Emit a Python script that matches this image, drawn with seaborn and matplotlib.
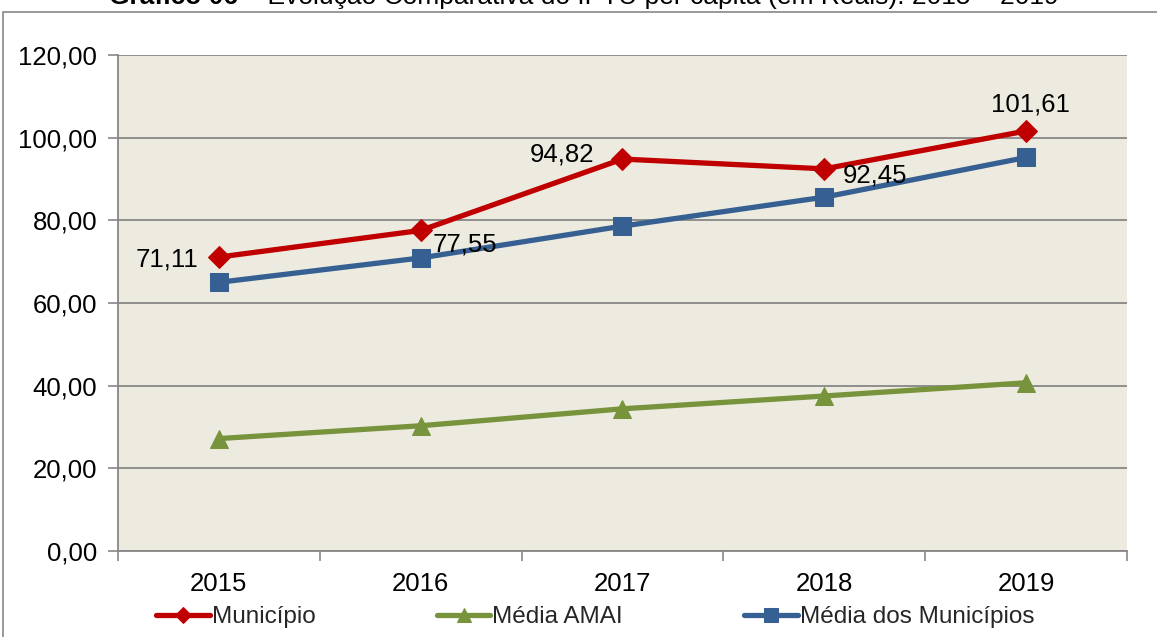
import numpy as np
import pandas as pd
import matplotlib
matplotlib.use("Agg")
import matplotlib.pyplot as plt
import seaborn as sns
from matplotlib.patches import Rectangle
from matplotlib.ticker import FuncFormatter, FixedLocator

# Data
years = ["2015", "2016", "2017", "2018", "2019"]
municipio = [71.11, 77.55, 94.82, 92.45, 101.61]
media_amai = [27.2, 30.3, 34.4, 37.5, 40.7]
media_municipios = [65.0, 70.9, 78.6, 85.6, 95.2]
series_names = ["Município", "Média AMAI", "Média dos Municípios"]
y_ticks = [0, 20, 40, 60, 80, 100, 120]

df = pd.DataFrame({
    "ano": years * 3,
    "valor": municipio + media_amai + media_municipios,
    "serie": np.repeat(series_names, len(years)),
})

sns.set_theme(style="white")
plt.rcParams["font.family"] = ["Liberation Sans", "DejaVu Sans"]
FS = 18.5

fig = plt.figure(figsize=(11.57, 6.37), dpi=100)
ax = fig.add_axes([0.102, 0.135, 0.872, 0.7787])
ax.set_facecolor("#EDEBE0")

styles = {
    "Município": dict(color="#C00000", marker="D", markersize=11),
    "Média AMAI": dict(color="#77933C", marker="^", markersize=13),
    "Média dos Municípios": dict(color="#376092", marker="s", markersize=13),
}

for name in series_names:
    sub = df[df["serie"] == name]
    st = styles[name]
    sns.lineplot(data=sub, x="ano", y="valor", ax=ax, color=st["color"],
                 marker=st["marker"], markersize=st["markersize"],
                 markeredgecolor=st["color"], linewidth=3.8, label=name,
                 sort=False, zorder=3)

# data labels for Município
offsets = [(-0.1, -0.5, "right", "center"), (0.06, -3.3, "left", "center"),
           (-0.14, 1.0, "right", "center"), (0.09, -1.6, "left", "center"),
           (0.02, 6.5, "center", "center")]
for i, (dx, dy, ha, va) in enumerate(offsets):
    ax.text(i + dx, municipio[i] + dy, f"{municipio[i]:.2f}".replace(".", ","),
            ha=ha, va=va, fontsize=FS, color="black", zorder=4)

ax.set_xlim(-0.5, 4.5)
ax.set_ylim(0, 120)
ax.yaxis.set_major_locator(FixedLocator(y_ticks))
ax.yaxis.set_major_formatter(FuncFormatter(lambda v, p: f"{v:.2f}".replace(".", ",")))
ax.grid(axis="y", color="#878787", linewidth=1.3)
ax.set_axisbelow(True)

ax.set_xticks(range(len(years)))
ax.set_xticklabels(years)
ax.set_xticks(np.arange(-0.5, 5.0, 1.0), minor=True)
ax.tick_params(axis="x", which="major", length=0, pad=15, labelsize=FS, colors="black")
ax.tick_params(axis="x", which="minor", length=7, width=1.2, color="#878787", direction="out", bottom=True)
ax.tick_params(axis="y", which="major", length=7, width=1.2, color="#878787", direction="out",
               left=True, pad=8, labelsize=FS, labelcolor="black")
ax.set_xlabel("")
ax.set_ylabel("")

for side in ["top", "right"]:
    ax.spines[side].set_visible(False)
for side in ["left", "bottom"]:
    ax.spines[side].set_color("#878787")
    ax.spines[side].set_linewidth(1.3)

ax.legend(loc="upper center", bbox_to_anchor=(0.473, -0.092), ncol=3, frameon=False,
          fontsize=17.5, handlelength=2.2, handletextpad=0.08, columnspacing=5.0,
          markerscale=0.75, borderaxespad=0)

# outer chart frame
fig.patches.append(Rectangle((3 / 1157, -0.05), 1.1, 1 - 12 / 637 + 0.05,
                             transform=fig.transFigure, fill=False,
                             edgecolor="#878787", linewidth=1.2))

# title (clipped at top as in the original)
t1 = fig.text(0.094, 1.004, "Gráfico 06", ha="left", va="center",
              fontsize=19, fontweight="bold", color="black")
ax.annotate(" – Evolução Comparativa do IPTU per capita (em Reais): 2015 – 2019",
            xy=(1, 0.5), xycoords=t1, va="center", ha="left",
            fontsize=19, color="black", annotation_clip=False)

fig.savefig("out.png", dpi=100)
